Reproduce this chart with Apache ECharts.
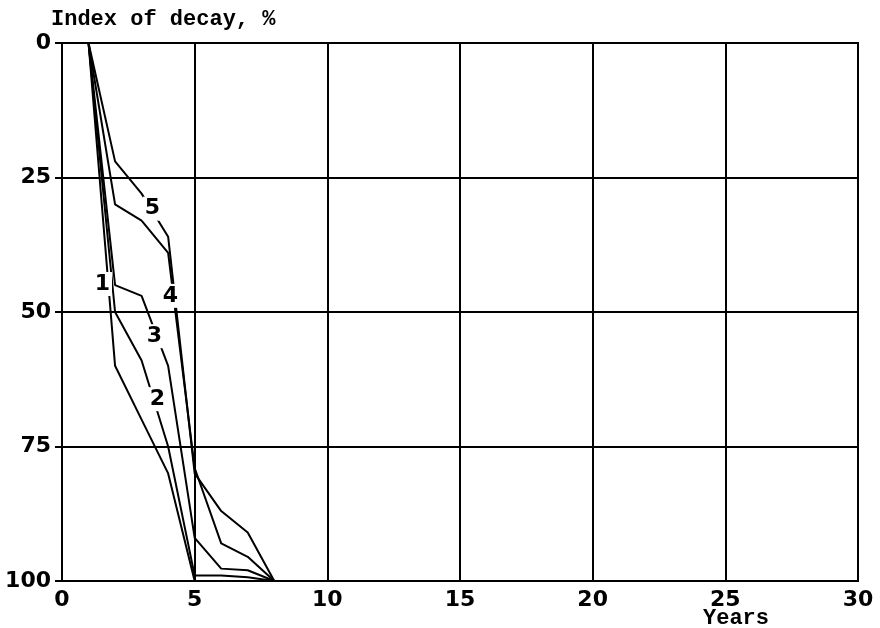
<!DOCTYPE html>
<html>
<head>
<meta charset="utf-8">
<title>Index of decay</title>
<script src="https://cdn.jsdelivr.net/npm/echarts@6/dist/echarts.min.js"></script>
<style>
  html, body { margin: 0; padding: 0; background: #fff; }
  #chart { width: 880px; height: 628px; }
</style>
</head>
<body>
<div id="chart"></div>
<script>
// Years of observation (shared by every curve)
const years = [0, 1, 2, 3, 4, 5, 6, 7, 8];

// Index of decay (%) per curve
const curve1 = [0, 0, 60, 70, 80, 100, 100, 100, 100];
const curve2 = [0, 0, 50, 59, 75, 99, 99, 99.3, 100];
const curve3 = [0, 0, 45, 47, 60, 92, 97.7, 98, 100];
const curve4 = [0, 0, 30, 33, 39, 79, 93, 95.5, 100];
const curve5 = [0, 0, 22, 28, 36, 80, 87, 91, 100];

// Curve numbers written along the lines, with the spot (year, %) each sits on
const curveNames = ['1', '2', '3', '4', '5'];
const nameYears = [1.52, 3.6, 3.48, 4.09, 3.41];
const nameValues = [44.8, 66.2, 54.5, 47, 30.8];

// Axis ticks
const xTicks = { min: 0, max: 30, step: 5 };
const yTicks = { min: 0, max: 100, step: 25 };

const curves = [curve1, curve2, curve3, curve4, curve5];

const tickFont = {
  color: '#000',
  fontFamily: 'DejaVu Sans',
  fontWeight: 'bold',
  fontSize: 22
};

const lineSeries = curves.map((vals, i) => ({
  type: 'line',
  name: curveNames[i],
  data: years.map((y, k) => [y, vals[k]]),
  symbol: 'none',
  lineStyle: { color: '#000', width: 2 },
  z: 3,
  silent: true
}));

const nameSeries = {
  type: 'scatter',
  data: curveNames.map((n, i) => ({ value: [nameYears[i], nameValues[i]], name: n })),
  symbolSize: 0,
  itemStyle: { opacity: 1 },
  z: 10,
  silent: true,
  label: {
    show: true,
    position: 'inside',
    formatter: p => p.name,
    color: '#000',
    opacity: 1,
    textBorderWidth: 0,
    fontFamily: 'DejaVu Sans',
    fontWeight: 'bold',
    fontSize: 22,
    backgroundColor: '#fff',
    padding: [1, 2]
  }
};

const chart = echarts.init(document.getElementById('chart'), null, { renderer: 'canvas' });
chart.setOption({
  animation: false,
  backgroundColor: '#fff',
  title: [
    {
      text: 'Index of decay, %',
      left: 46,
      top: 3,
      textStyle: {
        fontFamily: 'Liberation Mono',
        fontWeight: 'bold',
        fontSize: 22,
        color: '#000'
      }
    },
    {
      text: 'Years',
      left: 698,
      top: 602,
      textStyle: {
        fontFamily: 'Liberation Mono',
        fontWeight: 'bold',
        fontSize: 22,
        color: '#000'
      }
    }
  ],
  grid: {
    left: 62,
    right: 22,
    top: 43,
    bottom: 47,
    show: true,
    borderColor: '#000',
    borderWidth: 2,
    containLabel: false
  },
  xAxis: {
    type: 'value',
    min: xTicks.min,
    max: xTicks.max,
    interval: xTicks.step,
    axisLine: { show: true, lineStyle: { color: '#000', width: 2 } },
    axisTick: { show: true, length: 6, lineStyle: { color: '#000', width: 2 } },
    axisLabel: Object.assign({ margin: 8 }, tickFont),
    splitLine: { show: true, lineStyle: { color: '#000', width: 2 } }
  },
  yAxis: {
    type: 'value',
    inverse: true,
    min: yTicks.min,
    max: yTicks.max,
    interval: yTicks.step,
    axisLine: { show: true, lineStyle: { color: '#000', width: 2 } },
    axisTick: { show: true, length: 7, lineStyle: { color: '#000', width: 2 } },
    axisLabel: Object.assign({ margin: 11 }, tickFont),
    splitLine: { show: true, lineStyle: { color: '#000', width: 2 } }
  },
  series: lineSeries.concat([nameSeries])
});
</script>
</body>
</html>
